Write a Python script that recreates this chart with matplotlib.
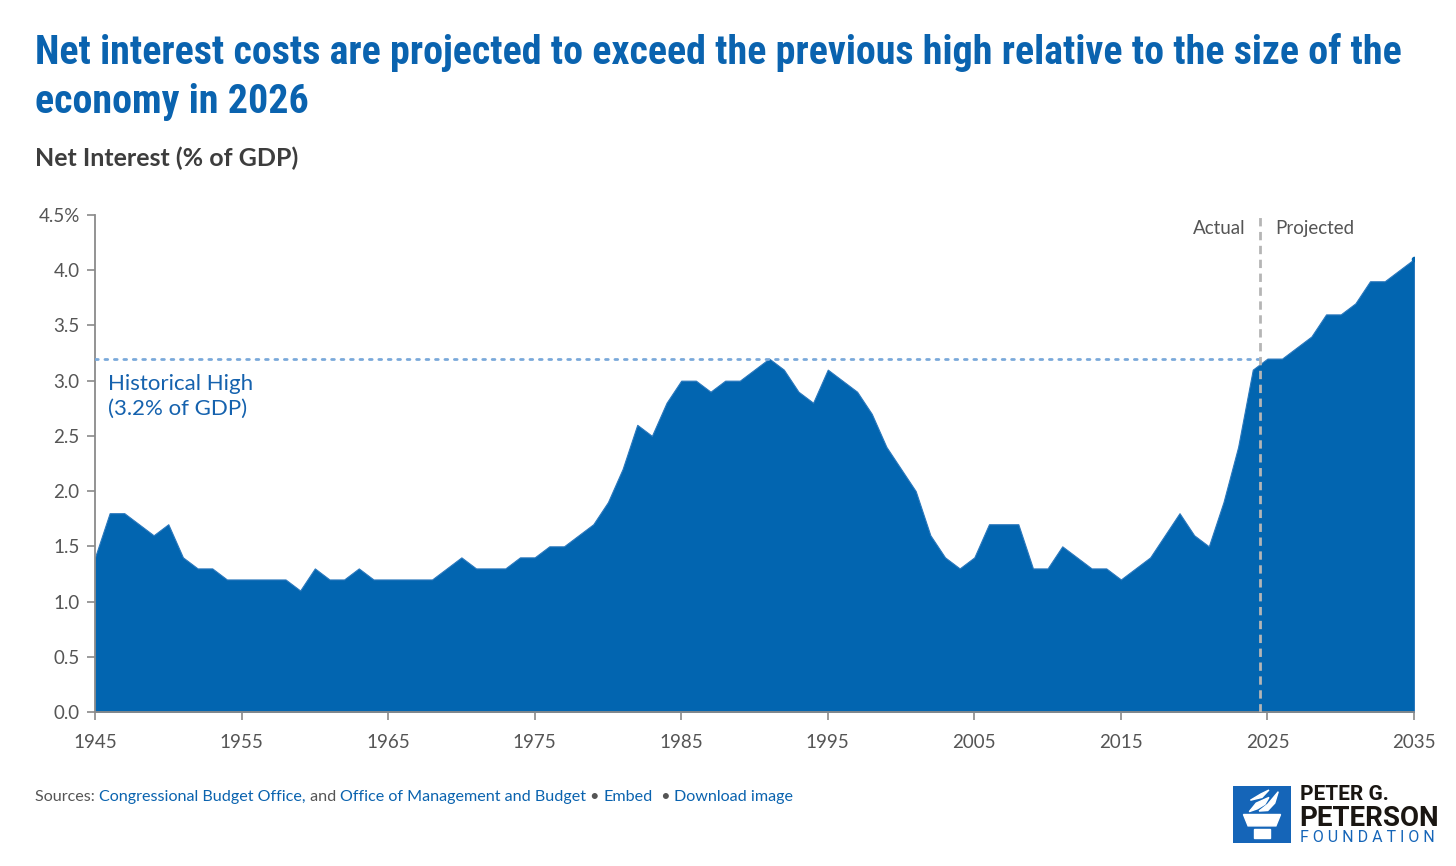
import matplotlib
matplotlib.use("Agg")
import matplotlib.pyplot as plt
from matplotlib import font_manager
from matplotlib.patches import Rectangle, Polygon
import numpy as np

# data (net interest, % of GDP)
years = list(range(1945, 2036))
net_interest = [
    1.4, 1.8, 1.8, 1.7, 1.6, 1.7, 1.4, 1.3, 1.3, 1.2,   # 1945-1954
    1.2, 1.2, 1.2, 1.2, 1.1, 1.3, 1.2, 1.2, 1.3, 1.2,   # 1955-1964
    1.2, 1.2, 1.2, 1.2, 1.3, 1.4, 1.3, 1.3, 1.3, 1.4,   # 1965-1974
    1.4, 1.5, 1.5, 1.6, 1.7, 1.9, 2.2, 2.6, 2.5, 2.8,   # 1975-1984
    3.0, 3.0, 2.9, 3.0, 3.0, 3.1, 3.2, 3.1, 2.9, 2.8,   # 1985-1994
    3.1, 3.0, 2.9, 2.7, 2.4, 2.2, 2.0, 1.6, 1.4, 1.3,   # 1995-2004
    1.4, 1.7, 1.7, 1.7, 1.3, 1.3, 1.5, 1.4, 1.3, 1.3,   # 2005-2014
    1.2, 1.3, 1.4, 1.6, 1.8, 1.6, 1.5, 1.9, 2.4, 3.1,   # 2015-2024
    3.2, 3.2, 3.3, 3.4, 3.6, 3.6, 3.7, 3.9, 3.9, 4.0,   # 2025-2034
    4.1,                                                # 2035
]
historical_high = 3.2
split_year = 2024.5
x_ticks = [1945, 1955, 1965, 1975, 1985, 1995, 2005, 2015, 2025, 2035]
y_ticks = [0.0, 0.5, 1.0, 1.5, 2.0, 2.5, 3.0, 3.5, 4.0, 4.5]

BLUE = "#0265B0"
TITLE_BLUE = "#0A63AF"
GRAY = "#555555"
DARK = "#3d3d3d"

names = set(font_manager.get_font_names())
body_font = "Lato" if "Lato" in names else "DejaVu Sans"
title_font = body_font
for cand in ["Roboto Condensed", "Liberation Sans Narrow", "Open Sans Condensed",
             "DejaVu Sans Condensed", "Roboto"]:
    if cand in names:
        title_font = cand
        break

plt.rcParams["font.family"] = [body_font, "DejaVu Sans"]

W, H = 1456, 866
fig = plt.figure(figsize=(W / 100, H / 100), dpi=100)
fig.patch.set_facecolor("white")
renderer = fig.canvas.get_renderer()


def px(x, y):
    return x / W, 1 - y / H


# main axes
ax = fig.add_axes([95 / W, 1 - 712 / H, 1319 / W, 497 / H])
ax.fill_between(years, net_interest, 0, color=BLUE, linewidth=0.8, edgecolor="#2a78bd", zorder=2)
ax.plot(years[-1], net_interest[-1], "o", color=BLUE, markersize=3, zorder=3)

ax.plot([1945, split_year], [historical_high, historical_high], linestyle=(0, (1, 2.4)),
        color="#7AA9DA", linewidth=2, zorder=3, dash_capstyle="round")
ax.plot([split_year, split_year], [0, 4.5], linestyle=(0, (3, 2)), color="#B5B5B5",
        linewidth=2, zorder=4)

ax.text(split_year - 1.0, 4.38, "Actual", ha="right", va="center", fontsize=13.5, color=GRAY)
ax.text(split_year + 1.0, 4.38, "Projected", ha="left", va="center", fontsize=13.5, color=GRAY)
ax.text(1945.9, 2.86, "Historical High\n(3.2% of GDP)", ha="left", va="center",
        fontsize=16, color="#1562AE", linespacing=1.3)

ax.set_xlim(1945, 2035)
ax.set_ylim(0, 4.5)
ax.set_xticks(x_ticks)
ax.set_xticklabels([str(t) for t in x_ticks])
ax.set_yticks(y_ticks)
ax.set_yticklabels([f"{t:.1f}%" if t == 4.5 else f"{t:.1f}" for t in y_ticks])
for s in ["top", "right"]:
    ax.spines[s].set_visible(False)
for s in ["left", "bottom"]:
    ax.spines[s].set_color("#8a8a8a")
    ax.spines[s].set_linewidth(1.3)
ax.tick_params(axis="both", colors="#8a8a8a", labelcolor=GRAY, labelsize=13.5, length=6, width=1.2)
ax.tick_params(axis="x", pad=10)
ax.tick_params(axis="y", pad=5)
ax.set_facecolor("white")

# title, fitted to the reference width
title1 = "Net interest costs are projected to exceed the previous high relative to the size of the"
title2 = "economy in 2026"
t1 = fig.text(*px(35, 52), title1, fontsize=30, fontweight="bold", color=TITLE_BLUE,
              family=title_font, va="center", ha="left")
w1 = t1.get_window_extent(renderer).width
size = min(34, 30 * 1371 / w1)
t1.set_fontsize(size)
fig.text(*px(35, 102), title2, fontsize=size, fontweight="bold", color=TITLE_BLUE,
         family=title_font, va="center", ha="left")

fig.text(*px(35, 158), "Net Interest (% of GDP)", fontsize=18, fontweight="bold",
         color=DARK, va="center", ha="left")

# footer with coloured pieces placed one after the other
pieces = [("Sources: ", GRAY), ("Congressional Budget Office,", TITLE_BLUE), (" and ", GRAY),
          ("Office of Management and Budget", TITLE_BLUE), (" \u2022 ", GRAY),
          ("Embed", TITLE_BLUE), ("  \u2022 ", GRAY), ("Download image", TITLE_BLUE)]
xcur = 35
for txt, col in pieces:
    tt = fig.text(*px(xcur, 797), txt, fontsize=11.6, color=col, va="center", ha="left")
    xcur += tt.get_window_extent(renderer).width

# logo
lax = fig.add_axes([1233 / W, 1 - 843 / H, 58 / W, 57 / H])
lax.set_xlim(0, 1)
lax.set_ylim(0, 1)
lax.axis("off")
lax.add_patch(Rectangle((0, 0), 1, 1, color="#1565B8"))
lax.add_patch(Polygon([[0.18, 0.50], [0.82, 0.50], [0.74, 0.30], [0.26, 0.30]], color="white"))
lax.add_patch(Rectangle((0.36, 0.08), 0.28, 0.17, color="white"))
lax.add_patch(Polygon([[0.28, 0.55], [0.40, 0.70], [0.62, 0.80], [0.55, 0.68], [0.42, 0.60]],
                      color="white"))
lax.add_patch(Polygon([[0.45, 0.56], [0.60, 0.68], [0.78, 0.90], [0.72, 0.70], [0.60, 0.57]],
                      color="white"))
lax.add_patch(Polygon([[0.30, 0.75], [0.48, 0.86], [0.62, 0.93], [0.50, 0.80]], color="white"))

fig.text(*px(1300, 795), "PETER G.", fontsize=15, fontweight="bold", color="#1a1612",
         family="Roboto", va="center", ha="left")
fig.text(*px(1299, 818), "PETERSON", fontsize=20, fontweight="bold", color="#1a1612",
         family="Roboto", va="center", ha="left")
fig.text(*px(1300, 838), "F O U N D A T I O N", fontsize=11.5, color="#1565B8",
         family="Roboto", va="center", ha="left")

fig.savefig("out.png", dpi=100, facecolor="white")
